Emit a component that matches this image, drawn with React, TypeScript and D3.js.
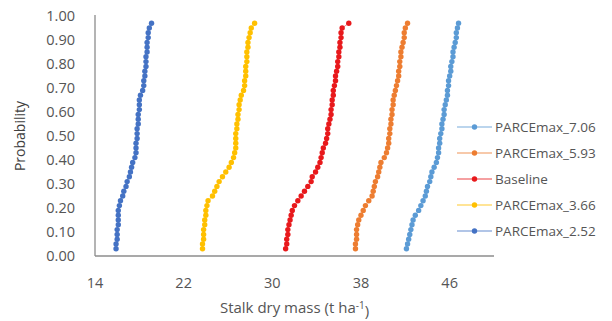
import React from "react";
import * as d3 from "d3";

interface Series {
  name: string;
  color: string;
  values: number[];
}

const probabilities: number[] = [
  0.03, 0.05, 0.07, 0.09, 0.11, 0.13, 0.15, 0.17, 0.19, 0.21, 0.23, 0.25,
  0.27, 0.29, 0.31, 0.33, 0.35, 0.37, 0.39, 0.41, 0.43, 0.45, 0.47, 0.49,
  0.51, 0.53, 0.55, 0.57, 0.59, 0.61, 0.63, 0.65, 0.67, 0.69, 0.71, 0.73,
  0.75, 0.77, 0.79, 0.81, 0.83, 0.85, 0.87, 0.89, 0.91, 0.93, 0.95, 0.97,
];

const parce706: number[] = [
  42.1, 42.2, 42.3, 42.4, 42.5, 42.6, 42.7, 42.9, 43.2, 43.4, 43.6, 43.8,
  43.9, 44.0, 44.2, 44.3, 44.4, 44.6, 44.8, 44.9, 45.0, 45.0, 45.1, 45.1,
  45.2, 45.3, 45.3, 45.4, 45.5, 45.5, 45.6, 45.7, 45.8, 45.8, 45.9, 45.9,
  46.0, 46.1, 46.1, 46.2, 46.3, 46.3, 46.4, 46.5, 46.6, 46.6, 46.7, 46.8,
];

const parce593: number[] = [
  37.5, 37.5, 37.6, 37.6, 37.6, 37.7, 37.8, 38.0, 38.2, 38.4, 38.7, 39.0,
  39.1, 39.2, 39.3, 39.5, 39.6, 39.7, 39.8, 40.1, 40.3, 40.4, 40.5, 40.5,
  40.6, 40.6, 40.7, 40.7, 40.8, 40.8, 40.9, 40.9, 41.0, 41.1, 41.2, 41.3,
  41.4, 41.4, 41.5, 41.5, 41.6, 41.6, 41.7, 41.8, 41.9, 41.9, 42.0, 42.2,
];

const baseline: number[] = [
  31.2, 31.3, 31.3, 31.4, 31.4, 31.5, 31.6, 31.7, 31.8, 32.0, 32.3, 32.6,
  32.9, 33.2, 33.5, 33.6, 33.9, 34.1, 34.3, 34.4, 34.5, 34.6, 34.8, 34.9,
  35.0, 35.0, 35.1, 35.2, 35.3, 35.3, 35.4, 35.4, 35.5, 35.5, 35.6, 35.7,
  35.7, 35.8, 35.9, 35.9, 36.0, 36.0, 36.1, 36.1, 36.2, 36.2, 36.3, 36.9,
];

const parce366: number[] = [
  23.7, 23.7, 23.8, 23.8, 23.8, 23.9, 23.9, 24.0, 24.0, 24.1, 24.2, 24.6,
  24.8, 25.0, 25.2, 25.5, 25.8, 26.1, 26.3, 26.5, 26.6, 26.7, 26.7, 26.7,
  26.7, 26.8, 26.8, 26.9, 26.9, 27.0, 27.0, 27.1, 27.2, 27.4, 27.5, 27.5,
  27.6, 27.6, 27.6, 27.7, 27.7, 27.7, 27.8, 27.8, 27.9, 28.0, 28.1, 28.4,
];

const parce252: number[] = [
  15.9, 15.9, 16.0, 16.0, 16.0, 16.1, 16.1, 16.1, 16.1, 16.2, 16.3, 16.5,
  16.6, 16.8, 16.9, 17.1, 17.2, 17.3, 17.4, 17.6, 17.7, 17.7, 17.7, 17.8,
  17.8, 17.8, 17.9, 17.9, 17.9, 18.0, 18.0, 18.0, 18.1, 18.3, 18.4, 18.4,
  18.5, 18.5, 18.6, 18.6, 18.6, 18.7, 18.7, 18.7, 18.8, 18.8, 18.9, 19.1,
];

const xTicks: number[] = [14, 22, 30, 38, 46];
const yTicks: number[] = [0, 0.1, 0.2, 0.3, 0.4, 0.5, 0.6, 0.7, 0.8, 0.9, 1.0];

const series: Series[] = [
  { name: "PARCEmax_7.06", color: "#5b9bd5", values: parce706 },
  { name: "PARCEmax_5.93", color: "#ed7d31", values: parce593 },
  { name: "Baseline", color: "#e8191c", values: baseline },
  { name: "PARCEmax_3.66", color: "#ffc000", values: parce366 },
  { name: "PARCEmax_2.52", color: "#4472c4", values: parce252 },
];

const width = 612;
const height = 321;
const marginLeft = 95;
const plotRight = 494;
const marginTop = 16;
const plotBottom = 256;
const font = "Open Sans, Liberation Sans, sans-serif";
const textColor = "#555555";

const App = () => {
  const x = d3.scaleLinear().domain([14, 50]).range([marginLeft, plotRight]);
  const y = d3.scaleLinear().domain([0, 1]).range([plotBottom, marginTop]);

  const line = d3
    .line<number>()
    .x((d) => x(d))
    .y((_, i) => y(probabilities[i]));

  return (
    <svg
      width={width}
      height={height}
      style={{ position: "absolute", left: 0, top: 0, background: "#fff" }}
      fontFamily={font}
    >
      {/* axes */}
      <line x1={marginLeft} x2={marginLeft} y1={marginTop - 1} y2={plotBottom} stroke="#8c8c8c" strokeWidth={1.3} />
      <line x1={marginLeft} x2={plotRight} y1={plotBottom} y2={plotBottom} stroke="#8c8c8c" strokeWidth={1.3} />

      {yTicks.map((t) => (
        <text key={t} x={75} y={y(t)} dy="0.35em" textAnchor="end" fontSize={14.5} fill={textColor}>
          {t.toFixed(2)}
        </text>
      ))}
      {xTicks.map((t) => (
        <text key={t} x={x(t)} y={283} dy="0.35em" textAnchor="middle" fontSize={14.5} fill={textColor}>
          {t}
        </text>
      ))}

      <text
        transform={`translate(20,${(marginTop + plotBottom) / 2}) rotate(-90)`}
        textAnchor="middle"
        dy="0.35em"
        fontSize={14}
        fill="#404040"
      >
        Probability
      </text>
      <text x={(marginLeft + plotRight) / 2} y={308} textAnchor="middle" dy="0.35em" fontSize={15} fill={textColor}>
        Stalk dry mass (t ha
        <tspan dy="-0.45em" fontSize={10}>-1</tspan>
        <tspan dy="0.45em">)</tspan>
      </text>

      {/* series */}
      {series.map((s) => (
        <g key={s.name}>
          <path d={line(s.values) as string} fill="none" stroke={s.color} strokeWidth={1} strokeOpacity={0.5} />
          {s.values.map((v, i) => (
            <circle key={i} cx={x(v)} cy={y(probabilities[i])} r={2.7} fill={s.color} />
          ))}
        </g>
      ))}

      {/* legend */}
      {series.map((s, i) => (
        <g key={s.name} transform={`translate(457,${127 + i * 26})`}>
          <line x1={0} x2={35} y1={0} y2={0} stroke={s.color} strokeWidth={1.5} strokeOpacity={0.55} />
          <circle cx={17.5} cy={0} r={2.7} fill={s.color} />
          <text x={38} y={0} dy="0.35em" fontSize={13.5} fill={textColor}>
            {s.name}
          </text>
        </g>
      ))}
    </svg>
  );
};

export default App;
